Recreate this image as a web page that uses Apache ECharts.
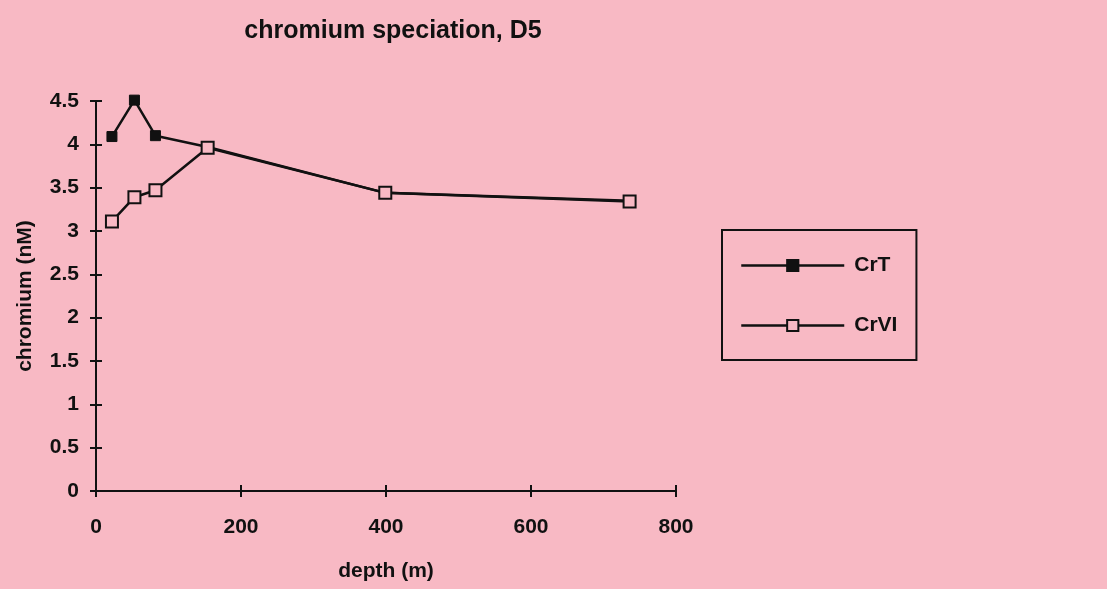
<!DOCTYPE html>
<html>
<head>
<meta charset="utf-8">
<script src="https://cdn.jsdelivr.net/npm/echarts@6/dist/echarts.min.js"></script>
<style>
html,body{margin:0;padding:0;background:#f8b9c4;}
#c{width:1107px;height:589px;}
</style>
</head>
<body>
<div id="c"></div>
<script>
var depths = [22, 53, 82, 154, 399, 736];
var crT = [4.09, 4.51, 4.10, 3.97, 3.44, 3.35];
var crVI = [3.11, 3.39, 3.47, 3.96, 3.44, 3.34];
var xTicks = [0, 200, 400, 600, 800];
var yTicks = [0, 0.5, 1, 1.5, 2, 2.5, 3, 3.5, 4, 4.5];

var FONT = '"Liberation Sans", Arial, sans-serif';
var INK = '#111111';
var BG = '#f8b9c4';

function pairs(xs, ys){ return xs.map(function(x,i){ return [x, ys[i]]; }); }

var chart = echarts.init(document.getElementById('c'), null, {renderer:'canvas'});
var axisLine = {show:true, lineStyle:{color:INK, width:2}};
chart.setOption({
  backgroundColor: BG,
  animation: false,
  title: {
    text: 'chromium speciation, D5',
    left: 388, top: 14, textAlign: 'center',
    textStyle: {fontFamily: FONT, fontWeight: 'bold', fontSize: 25, color: INK}
  },
  legend: {
    orient: 'vertical',
    left: 722, top: 230,
    padding: [25, 19, 24, 18],
    itemGap: 39,
    itemWidth: 103, itemHeight: 14,
    borderColor: INK, borderWidth: 2, borderRadius: 0,
    backgroundColor: BG,
    lineStyle: {width: 2.5},
    textStyle: {fontFamily: FONT, fontWeight: 'bold', fontSize: 21, color: INK, padding:[0,0,0,5], lineHeight: 21},
    data: ['CrT', 'CrVI']
  },
  grid: {left: 96, right: 431, top: 101, bottom: 98, containLabel: false},
  xAxis: [{
    type: 'value', min: 0, max: 800, interval: 200, position: 'bottom',
    name: 'depth (m)', nameLocation: 'middle', nameGap: 70,
    nameTextStyle: {fontFamily: FONT, fontWeight: 'bold', fontSize: 21, color: INK},
    axisLine: axisLine,
    axisTick: {show:true, inside:false, length:6, lineStyle:{color:INK, width:2}},
    axisLabel: {fontFamily: FONT, fontWeight: 'bold', fontSize: 21, color: INK, margin: 26,
      formatter: function(v){ return xTicks.indexOf(v) >= 0 ? String(v) : ''; }},
    splitLine: {show:false}
  }, {
    type: 'value', min: 0, max: 800, interval: 200, position: 'bottom',
    axisLine: {show:false},
    axisTick: {show:true, inside:true, length:6, lineStyle:{color:INK, width:2}},
    axisLabel: {show:false}, splitLine: {show:false}
  }],
  yAxis: [{
    type: 'value', min: 0, max: 4.5, interval: 0.5, position: 'left',
    name: 'chromium (nM)', nameLocation: 'middle', nameGap: 60, nameRotate: 90,
    nameTextStyle: {fontFamily: FONT, fontWeight: 'bold', fontSize: 21, color: INK},
    axisLine: axisLine,
    axisTick: {show:true, inside:false, length:6, lineStyle:{color:INK, width:2}},
    axisLabel: {fontFamily: FONT, fontWeight: 'bold', fontSize: 21, color: INK, margin: 17,
      formatter: function(v){ return yTicks.indexOf(v) >= 0 ? String(v) : ''; }},
    splitLine: {show:false}
  }, {
    type: 'value', min: 0, max: 4.5, interval: 0.5, position: 'left',
    axisLine: {show:false},
    axisTick: {show:true, inside:true, length:6, lineStyle:{color:INK, width:2}},
    axisLabel: {show:false}, splitLine: {show:false}
  }],
  series: [{
    name: 'CrT', type: 'line', xAxisIndex: 0, yAxisIndex: 0,
    data: pairs(depths, crT), clip: false,
    symbol: 'rect', symbolSize: 10,
    lineStyle: {color: INK, width: 2.5},
    itemStyle: {color: INK, borderColor: INK, borderWidth: 1}
  }, {
    name: 'CrVI', type: 'line', xAxisIndex: 0, yAxisIndex: 0,
    data: pairs(depths, crVI), clip: false,
    symbol: 'rect', symbolSize: 12,
    lineStyle: {color: INK, width: 2.5},
    itemStyle: {color: BG, borderColor: INK, borderWidth: 2}
  }]
});
</script>
</body>
</html>
